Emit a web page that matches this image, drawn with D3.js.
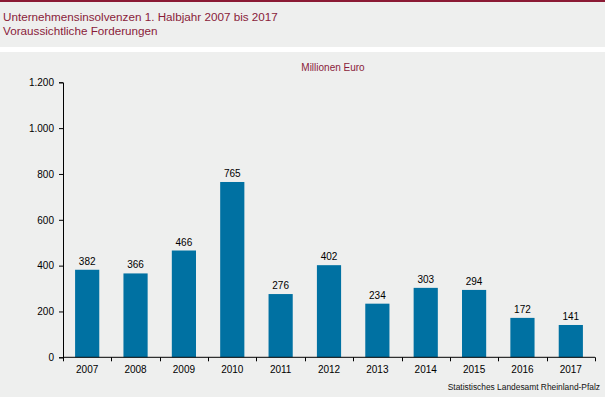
<!DOCTYPE html>
<html><head><meta charset="utf-8">
<script src="https://cdn.jsdelivr.net/npm/d3@7"></script>
<style>
html,body{margin:0;padding:0;background:#fff;}
svg{display:block;font-family:"Liberation Sans",Arial,sans-serif;}
</style></head>
<body>
<svg id="c" width="605" height="397"></svg>
<script>
const categories = ["2007","2008","2009","2010","2011","2012","2013","2014","2015","2016","2017"];
const values = [382,366,466,765,276,402,234,303,294,172,141];
const yTicks = [0,200,400,600,800,1000,1200];
const titleLines = ["Unternehmensinsolvenzen 1. Halbjahr 2007 bis 2017","Voraussichtliche Forderungen"];
const unitLabel = "Millionen Euro";
const sourceLabel = "Statistisches Landesamt Rheinland-Pfalz";

const svg = d3.select("#c");
const W = 605, H = 397;
const bg = "#eeefee", maroon = "#8a1c3a", barColor = "#0071a2";

svg.append("rect").attr("x",0).attr("y",0).attr("width",W).attr("height",H).attr("fill","#fff");
svg.append("rect").attr("x",0).attr("y",2).attr("width",W).attr("height",45).attr("fill",bg);
svg.append("rect").attr("x",0).attr("y",0).attr("width",W).attr("height",2).attr("fill","#8b1a34");
svg.append("rect").attr("x",0).attr("y",52).attr("width",W).attr("height",H-52).attr("fill",bg);

svg.selectAll("text.title").data(titleLines).enter().append("text")
  .attr("class","title").attr("x",3).attr("y",(d,i)=>21+i*14)
  .attr("fill",maroon).attr("font-size","11.7px").text(d=>d);

const x0 = 63, x1 = 595, yTop = 82.3, yBot = 357.3;
const x = d3.scaleBand().domain(categories).range([x0,x1]).paddingInner(0.5).paddingOuter(0.25);
const xb = d3.scaleBand().domain(categories).range([x0,x1]);
const y = d3.scaleLinear().domain([0,1200]).range([yBot,yTop]);

svg.append("text").attr("x",333).attr("y",71).attr("text-anchor","middle")
  .attr("fill",maroon).attr("font-size","10px").text(unitLabel);

const yAxis = svg.append("g").attr("transform",`translate(${x0},0)`)
  .call(d3.axisLeft(y).tickValues(yTicks).tickSize(4).tickPadding(5)
    .tickFormat(d=>d3.format(",")(d).replace(/,/g,".")));
yAxis.select(".domain").attr("stroke","#000");
yAxis.selectAll(".tick line").attr("stroke","#000");
yAxis.selectAll("text").attr("font-size","10px").attr("fill","#000")
  .attr("font-family","Liberation Sans, Arial, sans-serif");

svg.selectAll("rect.bar").data(values).enter().append("rect")
  .attr("class","bar")
  .attr("x",(d,i)=>x(categories[i]))
  .attr("width",x.bandwidth())
  .attr("y",d=>y(d)).attr("height",d=>yBot-y(d))
  .attr("fill",barColor);

svg.selectAll("text.val").data(values).enter().append("text")
  .attr("class","val")
  .attr("x",(d,i)=>x(categories[i])+x.bandwidth()/2)
  .attr("y",d=>y(d)-5).attr("text-anchor","middle")
  .attr("font-size","10px").attr("fill","#000").text(d=>d);

const xAxisG = svg.append("g").attr("transform",`translate(0,${yBot})`);
xAxisG.append("line").attr("x1",x0).attr("x2",x1).attr("y1",0).attr("y2",0).attr("stroke","#000");
const edges = categories.map(c=>xb(c)).concat([x1]);
xAxisG.selectAll("line.t").data(edges).enter().append("line")
  .attr("class","t").attr("x1",d=>Math.round(d)+0.5).attr("x2",d=>Math.round(d)+0.5)
  .attr("y1",0).attr("y2",4).attr("stroke","#000");
xAxisG.selectAll("text").data(categories).enter().append("text")
  .attr("x",d=>xb(d)+xb.bandwidth()/2).attr("y",16).attr("text-anchor","middle")
  .attr("font-size","10px").attr("fill","#000").text(d=>d);

svg.append("text").attr("x",600).attr("y",390).attr("text-anchor","end")
  .attr("font-size","8.4px").attr("fill","#111").text(sourceLabel);
</script>
</body></html>
